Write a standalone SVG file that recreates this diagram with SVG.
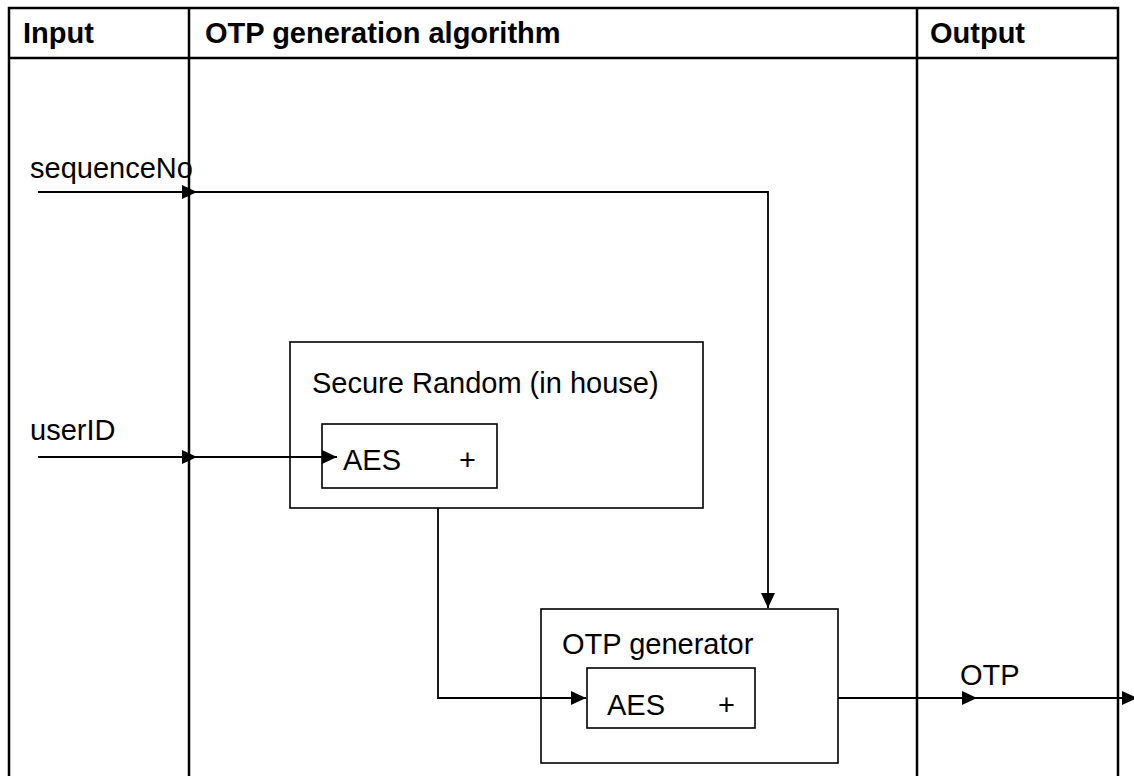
<svg xmlns="http://www.w3.org/2000/svg" width="1134" height="776" viewBox="0 0 1134 776">
<style>
.t{font-family:"Liberation Sans",Arial,sans-serif;font-size:29px;fill:#000}
.h{font-weight:bold}
.tbl{stroke:#000;stroke-width:2.5;fill:none}
.box{stroke:#000;stroke-width:1.6;fill:#fff}
.con{stroke:#000;stroke-width:1.8;fill:none}
</style>
<defs>
<marker id="arr" markerUnits="userSpaceOnUse" markerWidth="15" markerHeight="14" refX="15" refY="7" orient="auto">
<path d="M0,0 L15,7 L0,14 z" fill="#000"/>
</marker>
</defs>
<rect width="1134" height="776" fill="#fff"/>
<g id="table">
<path class="tbl" d="M9,780 V8 H1118 V780 M9,58 H1118 M189,8 V780 M917,8 V780"/>
<text class="t h" x="23" y="43">Input</text>
<text class="t h" x="205" y="43">OTP generation algorithm</text>
<text class="t h" x="930" y="43">Output</text>
</g>
<g id="labels">
<text class="t" x="30" y="178">sequenceNo</text>
<text class="t" x="30" y="440">userID</text>
<text class="t" x="960" y="685">OTP</text>
</g>
<g id="secure-random">
<rect class="box" x="290" y="342" width="413" height="166"/>
<text class="t" x="312" y="393">Secure Random (in house)</text>
</g>
<g id="aes1">
<rect class="box" x="322" y="424" width="175" height="64"/>
<text class="t" x="343" y="470">AES</text>
<text class="t" x="459" y="470">+</text>
</g>
<g id="otp-generator">
<rect class="box" x="541" y="609" width="297" height="154"/>
<text class="t" x="562" y="654">OTP generator</text>
</g>
<g id="aes2">
<rect class="box" x="587" y="668" width="168" height="60"/>
<text class="t" x="607" y="715">AES</text>
<text class="t" x="718" y="715">+</text>
</g>
<g id="connectors">
<path class="con" d="M38,192 H197" marker-end="url(#arr)"/>
<path class="con" d="M197,192 H768 V608" marker-end="url(#arr)"/>
<path class="con" d="M38,457 H197" marker-end="url(#arr)"/>
<path class="con" d="M197,457 H337" marker-end="url(#arr)"/>
<path class="con" d="M438,508 V698 H586" marker-end="url(#arr)"/>
<path class="con" d="M838,698 H977" marker-end="url(#arr)"/>
<path class="con" d="M977,698 H1137" marker-end="url(#arr)"/>
</g>
</svg>
